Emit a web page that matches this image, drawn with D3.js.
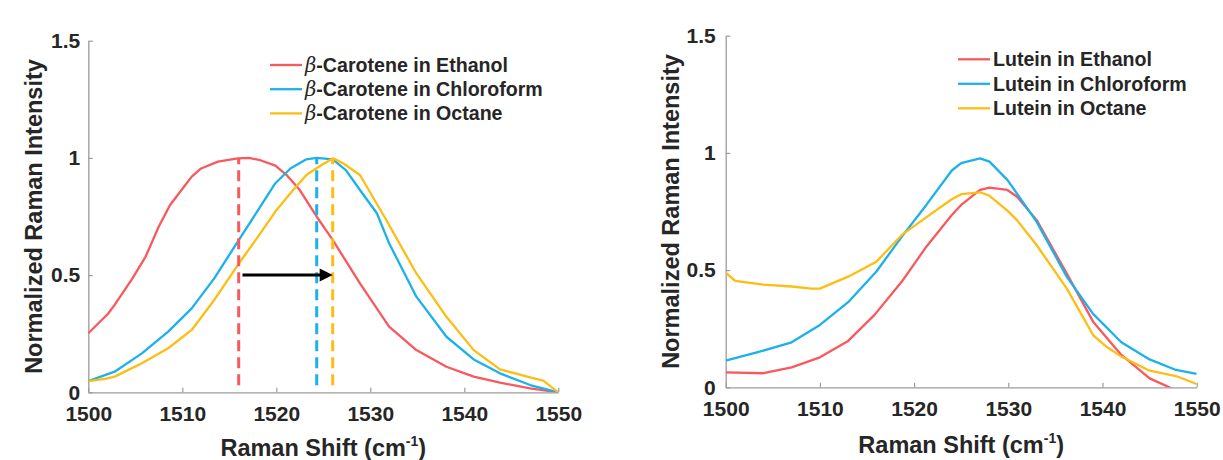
<!DOCTYPE html>
<html>
<head>
<meta charset="utf-8">
<script src="https://cdn.jsdelivr.net/npm/d3@7"></script>
<style>
  body { margin: 0; background: #fff; }
  svg { display: block; }
  text { font-family: "Liberation Sans", Arial, Helvetica, sans-serif; font-weight: bold; fill: #262626; }
</style>
</head>
<body>
<svg id="chart" width="1223" height="460"></svg>
<script>
// ---- data ----
var xTicks = [1500, 1510, 1520, 1530, 1540, 1550]
var yTicks = [0, 0.5, 1, 1.5]
var yTickLabels = ["0", "0.5", "1", "1.5"]
var colors = ["#f9585c", "#1cb1ea", "#fdbd12"]

// beta-carotene (left)
var betaNames = ["-Carotene in Ethanol", "-Carotene in Chloroform", "-Carotene in Octane"]
var betaEthanol = [[1500,0.252],[1502.1,0.335],[1502.8,0.373],[1504.7,0.486],[1506.1,0.579],[1507.5,0.707],[1508.7,0.799],
  [1511,0.92],[1512,0.955],[1513.8,0.984],[1515.9,0.998],[1517.1,1.0],[1518.3,0.99],[1519.9,0.967],[1521.1,0.927],
  [1522.5,0.863],[1524.3,0.749],[1526,0.65],[1528.9,0.465],[1532,0.28],[1534.9,0.18],[1538.1,0.109],[1541,0.067],
  [1543.8,0.041],[1547,0.017],[1550,0]]
var betaChloro = [[1500,0.048],[1502.8,0.088],[1505.7,0.166],[1508.5,0.259],[1511,0.358],[1513.4,0.486],[1515.9,0.643],
  [1518.3,0.792],[1519.9,0.892],[1521.5,0.955],[1523.2,0.994],[1524.3,1.0],[1526,0.994],[1527.4,0.948],[1528.9,0.863],
  [1530.7,0.764],[1532,0.636],[1534.9,0.408],[1538.1,0.237],[1541,0.14],[1543.8,0.081],[1547,0.031],[1550,0]]
var betaOctane = [[1500,0.048],[1501.8,0.057],[1502.8,0.067],[1505.7,0.124],[1508.5,0.188],[1511,0.266],[1513.4,0.394],
  [1515.9,0.543],[1518.3,0.678],[1519.9,0.771],[1521.5,0.849],[1523.2,0.927],[1524.8,0.97],[1526.06,0.998],[1527.1,0.977],
  [1528.9,0.927],[1531.7,0.735],[1534.9,0.507],[1538.1,0.322],[1541,0.18],[1543.8,0.098],[1547,0.064],[1548.4,0.05],[1550,0]]
var betaPeaks = [1516, 1524.3, 1526]
var shiftArrow = [[1516.4, 0.5], [1526, 0.5]]

// lutein (right)
var luteinNames = ["Lutein in Ethanol", "Lutein in Chloroform", "Lutein in Octane"]
var luteinEthanol = [[1500,0.064],[1504,0.06],[1507,0.085],[1510,0.128],[1513,0.198],[1515.8,0.309],[1518.7,0.451],
  [1521.3,0.6],[1524,0.735],[1525,0.778],[1527,0.842],[1528,0.852],[1529.9,0.842],[1530.9,0.814],[1533,0.714],
  [1536.2,0.486],[1539,0.28],[1542,0.138],[1545,0.038],[1547.1,0],[1548,-0.02]]
var luteinChloro = [[1500,0.114],[1503.6,0.152],[1507,0.192],[1510,0.266],[1513,0.363],[1516,0.494],[1518.7,0.643],
  [1521.3,0.778],[1524,0.925],[1525,0.956],[1527,0.977],[1528,0.963],[1529.9,0.885],[1533,0.707],[1536.2,0.472],
  [1539,0.313],[1542,0.192],[1545,0.119],[1547.8,0.074],[1550,0.057]]
var luteinOctane = [[1500,0.489],[1501,0.454],[1504,0.438],[1507,0.43],[1509.1,0.421],[1510,0.421],[1513,0.472],
  [1516,0.536],[1518.7,0.65],[1521.8,0.74],[1524,0.802],[1525,0.824],[1527,0.832],[1528,0.817],[1529.9,0.754],
  [1530.9,0.714],[1533,0.607],[1536.2,0.422],[1539,0.223],[1540.4,0.174],[1542,0.131],[1545,0.071],[1547.8,0.048],[1550,0.014]]

var svg = d3.select("#chart")

var drawPanel = function(p)
{
    var xScale = d3.scaleLinear().domain([1500, 1550]).range([p.left, p.right])
    var yScale = d3.scaleLinear().domain([0, 1.5]).range([p.bottom, p.top])

    var g = svg.append("g").attr("id", p.id)

    g.append("clipPath").attr("id", p.id + "clip")
        .append("rect")
        .attr("x", p.left).attr("y", p.top - 5)
        .attr("width", p.right - p.left).attr("height", p.bottom - p.top + 5)

    var xAxis = d3.axisBottom(xScale).tickValues(xTicks).tickFormat(d3.format("d"))
        .tickSizeInner(-4.5).tickSizeOuter(0).tickPadding(p.xPad)
    var yAxis = d3.axisLeft(yScale).tickValues(yTicks).tickFormat(function(d, i) { return yTickLabels[i] })
        .tickSizeInner(-4.5).tickSizeOuter(0).tickPadding(p.yPad)

    var gx = g.append("g").attr("transform", "translate(0," + p.bottom + ")").call(xAxis)
    var gy = g.append("g").attr("transform", "translate(" + p.left + ",0)").call(yAxis)
    ;[gx, gy].forEach(function(a) {
        a.select(".domain").attr("stroke", "#9c9c9c").attr("stroke-width", 1.3)
        a.selectAll(".tick line").attr("stroke", "#9c9c9c").attr("stroke-width", 1.2)
        a.selectAll(".tick text").attr("fill", "#262626")
            .style("font-size", "21px").style("font-family", "'Liberation Sans', Arial, sans-serif")
            .style("font-weight", "bold")
    })

    var line = d3.line().x(function(d) { return xScale(d[0]) }).y(function(d) { return yScale(d[1]) })

    g.append("g").attr("clip-path", "url(#" + p.id + "clip)")
        .selectAll("path.series")
        .data(p.series)
        .enter()
        .append("path")
        .attr("class", "series")
        .attr("d", line)
        .attr("fill", "none")
        .attr("stroke", function(d, i) { return colors[i] })
        .attr("stroke-width", 2.3)
        .attr("stroke-linejoin", "round")

    if (p.peaks) {
        g.selectAll("line.peak")
            .data(p.peaks)
            .enter()
            .append("line")
            .attr("class", "peak")
            .attr("x1", function(d) { return xScale(d) })
            .attr("x2", function(d) { return xScale(d) })
            .attr("y1", yScale(0.03))
            .attr("y2", yScale(1))
            .attr("stroke", function(d, i) { return colors[i] })
            .attr("stroke-width", 3)
            .attr("stroke-dasharray", "11,6")
    }

    if (p.arrow) {
        var a0 = p.arrow[0], a1 = p.arrow[1]
        var tipX = xScale(a1[0]), ay = yScale(a1[1])
        g.append("line")
            .attr("x1", xScale(a0[0])).attr("x2", tipX - 10)
            .attr("y1", ay).attr("y2", ay)
            .attr("stroke", "#000").attr("stroke-width", 3)
        g.append("path")
            .attr("d", "M" + tipX + "," + ay + "L" + (tipX - 13) + "," + (ay - 6.5) + "L" + (tipX - 13) + "," + (ay + 6.5) + "Z")
            .attr("fill", "#000")
    }

    // legend
    var leg = g.append("g").attr("transform", "translate(" + p.legX + "," + p.legY + ")")
    var rows = leg.selectAll("g.row")
        .data(p.names)
        .enter()
        .append("g")
        .attr("class", "row")
        .attr("transform", function(d, i) { return "translate(0," + (i * p.legStep) + ")" })
    rows.append("line")
        .attr("x1", 0).attr("x2", 32).attr("y1", 0).attr("y2", 0)
        .attr("stroke", function(d, i) { return colors[i] })
        .attr("stroke-width", 2.3)
    var txt = rows.append("text")
        .attr("x", 35).attr("dy", "0.36em")
        .style("font-size", "19.6px")
    if (p.beta) {
        txt.append("tspan").text("\u03B2")
            .style("font-family", "'DejaVu Serif', 'Liberation Serif', serif")
            .style("font-style", "italic").style("font-weight", "normal")
    }
    txt.append("tspan").text(function(d) { return d })

    // axis titles
    var xt = g.append("text")
        .attr("x", (p.left + p.right) / 2).attr("y", p.xTitleY)
        .attr("text-anchor", "middle")
        .style("font-size", "23.5px")
    xt.append("tspan").text("Raman Shift (cm")
    xt.append("tspan").text("-1").attr("dy", -10).style("font-size", "14px")
    xt.append("tspan").text(")").attr("dy", 10)

    g.append("text")
        .attr("transform", "translate(" + p.yTitleX + "," + ((p.top + p.bottom) / 2) + ") rotate(-90)")
        .attr("text-anchor", "middle")
        .style("font-size", "23.5px")
        .text("Normalized Raman Intensity")
}

drawPanel({id: "beta", left: 88.3, right: 558.3, top: 40.7, bottom: 392.3,
    xPad: 13.5, yPad: 8, series: [betaEthanol, betaChloro, betaOctane], names: betaNames, beta: true,
    peaks: betaPeaks, arrow: shiftArrow, legX: 270, legY: 65, legStep: 24.2, xTitleY: 456, yTitleX: 41.5})

drawPanel({id: "lutein", left: 725.7, right: 1196.7, top: 35.7, bottom: 387.3,
    xPad: 13.5, yPad: 10, series: [luteinEthanol, luteinChloro, luteinOctane], names: luteinNames, beta: false,
    legX: 958, legY: 59.3, legStep: 24.5, xTitleY: 453, yTitleX: 679})
</script>
</body>
</html>
